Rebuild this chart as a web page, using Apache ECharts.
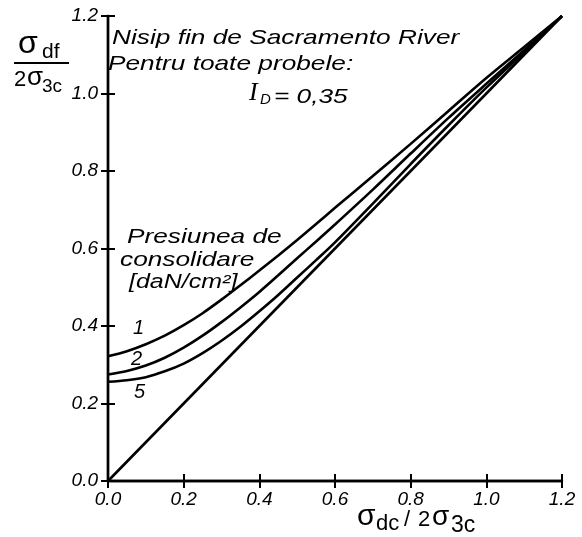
<!DOCTYPE html>
<html>
<head>
<meta charset="utf-8">
<script src="https://cdn.jsdelivr.net/npm/echarts@6/dist/echarts.min.js"></script>
<style>
  html, body { margin: 0; padding: 0; background: #fff; }
  #chart { width: 582px; height: 537px; }
</style>
</head>
<body>
<div id="chart"></div>
<script>
// Axis ticks (σdc/2σ3c on x, σdf/2σ3c on y)
const xTicks = [0.0, 0.2, 0.4, 0.6, 0.8, 1.0, 1.2];
const yTicks = [0.0, 0.2, 0.4, 0.6, 0.8, 1.0, 1.2];

// σdf/2σ3c for each consolidation pressure [daN/cm²] against σdc/2σ3c
const curveNames = ['1', '2', '5'];
const xs     = [0, 0.05, 0.1, 0.15, 0.2, 0.25, 0.3, 0.35, 0.4, 0.45, 0.5, 0.55, 0.6, 0.7, 0.8, 0.9, 1.0, 1.1, 1.2];
const curve1 = [0.322, 0.335, 0.353, 0.375, 0.402, 0.433, 0.468, 0.505, 0.543, 0.582, 0.622, 0.663, 0.705, 0.787, 0.870, 0.955, 1.040, 1.120, 1.2];
const curve2 = [0.275, 0.284, 0.298, 0.318, 0.344, 0.375, 0.410, 0.448, 0.488, 0.531, 0.575, 0.618, 0.662, 0.752, 0.845, 0.937, 1.025, 1.112, 1.2];
const curve5 = [0.256, 0.260, 0.268, 0.283, 0.303, 0.330, 0.362, 0.398, 0.438, 0.480, 0.525, 0.570, 0.616, 0.716, 0.818, 0.918, 1.015, 1.107, 1.2];
// Reference line σdf = σdc
const identityX = [0, 1.2];
const identityY = [0, 1.2];

const SANS = 'Liberation Sans';
const SERIF = 'Liberation Serif';
const INK = '#000';

const chart = echarts.init(document.getElementById('chart'));

const zip = (a, b) => a.map((v, i) => [v, b[i]]);
const lineStyle = { color: INK, width: 2.6 };
function curve(name, data, smooth) {
  return {
    name: name, type: 'line', data: data, smooth: smooth,
    showSymbol: false, lineStyle: lineStyle, silent: true,
    xAxisIndex: 0, yAxisIndex: 0
  };
}

const axisCommon = {
  type: 'value', min: 0, max: 1.2, interval: 0.2,
  axisLine: { show: true, lineStyle: { color: INK, width: 2.4 } },
  axisTick: { show: true, inside: true, length: 7, lineStyle: { color: INK, width: 2 } },
  splitLine: { show: false }
};
const labelStyle = {
  color: INK, fontFamily: SANS, fontStyle: 'italic', fontSize: 19,
  formatter: v => v.toFixed(1)
};

// Handwritten-style text: italic, stretched horizontally, placed by its vertical middle
function txt(x, y, text, size, opts) {
  opts = opts || {};
  return {
    type: 'text', x: x, y: y,
    scaleX: opts.sx || 1,
    style: {
      text: text, fill: INK,
      font: (opts.upright ? '' : 'italic ') + size + 'px "' + (opts.family || SANS) + '"',
      textAlign: 'left', textVerticalAlign: 'middle', verticalAlign: 'middle'
    }
  };
}

const S = 1.25;

chart.setOption({
  animation: false,
  backgroundColor: '#fff',
  grid: { left: 108, top: 16, width: 454, height: 465 },
  xAxis: [
    Object.assign({}, axisCommon, { position: 'bottom',
      axisLabel: Object.assign({}, labelStyle, { margin: 9 }) }),
    Object.assign({}, axisCommon, { position: 'top', axisLabel: { show: false } })
  ],
  yAxis: [
    Object.assign({}, axisCommon, { position: 'left',
      axisLabel: Object.assign({}, labelStyle, { margin: 10 }) }),
    Object.assign({}, axisCommon, { position: 'right', axisLabel: { show: false } })
  ],
  series: [
    curve(curveNames[0], zip(xs, curve1), 0.3),
    curve(curveNames[1], zip(xs, curve2), 0.3),
    curve(curveNames[2], zip(xs, curve5), 0.3),
    curve('σdf = σdc', zip(identityX, identityY), false)
  ],
  graphic: [
    // header notes inside the plot
    txt(112, 38, 'Nisip fin de Sacramento River', 21, { sx: S }),
    txt(108, 64, 'Pentru toate probele:', 21, { sx: S }),
    txt(249, 93, 'I', 26, { family: SERIF }),
    txt(260, 100, 'D', 15),
    txt(274, 97, '= 0,35', 21, { sx: S }),
    // note for the curve labels
    txt(127, 237, 'Presiunea de', 21, { sx: S }),
    txt(120, 260, 'consolidare', 21, { sx: S }),
    txt(129, 282, '[daN/cm²]', 20, { sx: S }),
    txt(133, 328, curveNames[0], 20),
    txt(131, 359, curveNames[1], 20),
    txt(134, 392, curveNames[2], 20),
    // y-axis title as a fraction σdf / 2σ3c
    txt(18, 44, 'σ', 32, { upright: true }),
    txt(42, 52, 'df', 21, { upright: true }),
    { type: 'line', shape: { x1: 14, y1: 63, x2: 69, y2: 63 }, style: { stroke: INK, lineWidth: 2.2 } },
    txt(14, 80, '2', 22, { upright: true }),
    txt(27, 78, 'σ', 26, { upright: true }),
    txt(42, 87, '3c', 19, { upright: true }),
    // x-axis title σdc / 2σ3c
    txt(357, 517, 'σ', 30, { upright: true }),
    txt(376, 524, 'dc', 22, { upright: true }),
    txt(404, 520, '/', 22, { upright: true }),
    txt(418, 520, '2', 22, { upright: true }),
    txt(432, 517, 'σ', 28, { upright: true }),
    txt(451, 526, '3c', 23, { upright: true })
  ]
});
</script>
</body>
</html>
